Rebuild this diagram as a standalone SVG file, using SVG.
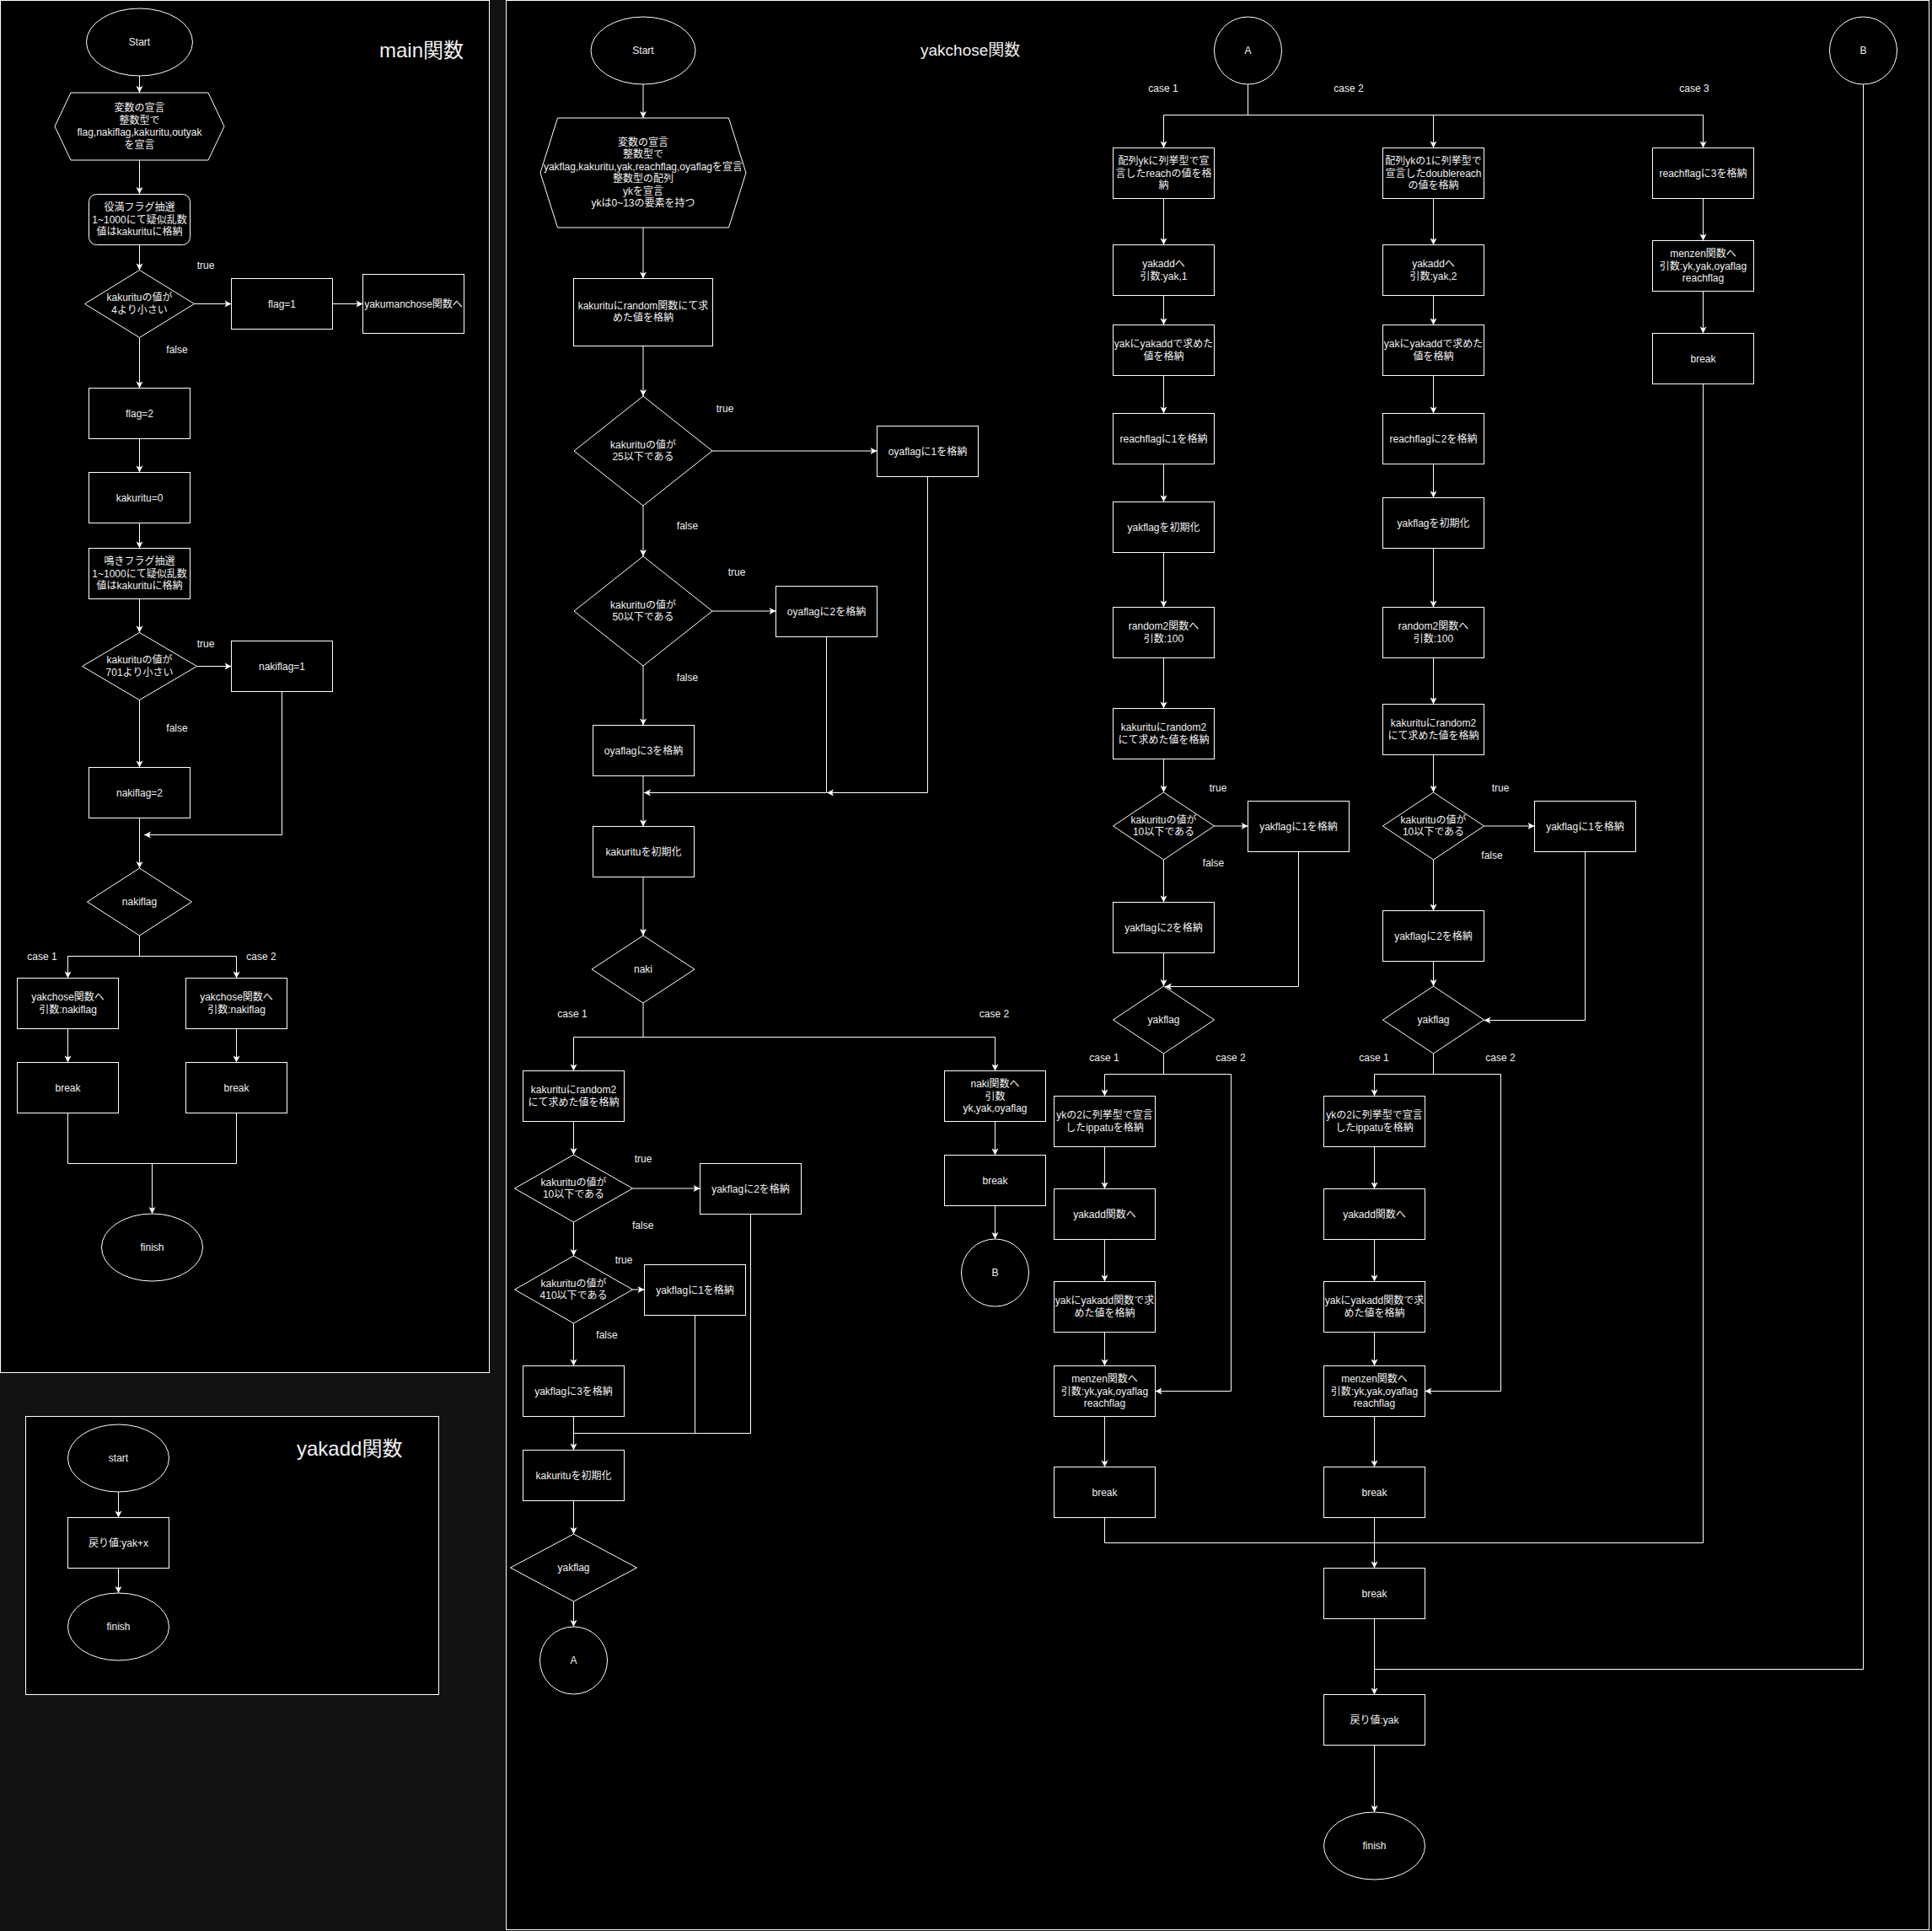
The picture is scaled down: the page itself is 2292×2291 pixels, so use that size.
<svg xmlns="http://www.w3.org/2000/svg" width="2292" height="2291" viewBox="0 0 2292 2291">
<style>
.n{fill:#000;stroke:#fff;stroke-width:1}
.t{font-family:"Liberation Sans","Noto Sans CJK JP",sans-serif;font-size:12px;fill:#f0f0f0;text-anchor:middle}
.ti{font-family:"Liberation Sans","Noto Sans CJK JP",sans-serif;fill:#f0f0f0}
.c{fill:none;stroke:#fff;stroke-width:1}
.a{marker-end:url(#arr)}
</style>
<defs>
<marker id="arr" markerUnits="userSpaceOnUse" markerWidth="12" markerHeight="12" viewBox="-10 -6 12 12" refX="0" refY="0" orient="auto">
<path d="M0,0 L-8,-4 L-6,0 L-8,4 Z" fill="#fff"/>
</marker>
</defs>
<rect width="2292" height="2291" fill="#121212"/>
<g id="panels">
<rect x="0.5" y="0.5" width="580" height="1628" class="n"/>
<rect x="600.5" y="0.5" width="1688" height="2289" class="n"/>
<rect x="30.5" y="1680.5" width="490" height="330" class="n"/>
<text class="ti" x="450" y="68" font-size="24">main関数</text>
<text class="ti" x="1092" y="66" font-size="19">yakchose関数</text>
<text class="ti" x="352" y="1727" font-size="24">yakadd関数</text>
</g>
<g id="connectors" class="c">
<path class="a" d="M165.5,90 V110"/>
<path class="a" d="M165.5,190 V230"/>
<path class="a" d="M165.5,290 V320.5"/>
<path class="a" d="M230.5,360.5 H274.5"/>
<path class="a" d="M394.5,360.5 H430.5"/>
<path class="a" d="M165.5,400.5 V460.5"/>
<path class="a" d="M165.5,520.5 V560.5"/>
<path class="a" d="M165.5,620.5 V650.5"/>
<path class="a" d="M165.5,710.5 V750.5"/>
<path class="a" d="M233.5,790.5 H274.5"/>
<path class="a" d="M165.5,830.5 V910.5"/>
<path class="a" d="M334.5,820.5 V990.5 H171"/>
<path class="a" d="M165.5,970.5 V1030"/>
<path class="a" d="M165.5,1110 V1134.5 H80.5 V1160.5"/>
<path class="a" d="M165.5,1134.5 H280.5 V1160.5"/>
<path class="a" d="M80.5,1220.5 V1260.5"/>
<path class="a" d="M280.5,1220.5 V1260.5"/>
<path d="M80.5,1320.5 V1380.5 H280.5 V1320.5"/>
<path class="a" d="M180.5,1380.5 V1440"/>
<path class="a" d="M140.5,1770 V1800.5"/>
<path class="a" d="M140.5,1860.5 V1890"/>
<path class="a" d="M763,100 V140"/>
<path class="a" d="M763,270 V330.5"/>
<path class="a" d="M763,410.5 V470"/>
<path class="a" d="M845,535 H1040.5"/>
<path class="a" d="M763,600 V660"/>
<path class="a" d="M845,725 H920.5"/>
<path class="a" d="M763,790 V860.5"/>
<path class="a" d="M1100.5,565.5 V940.5 H981"/>
<path class="a" d="M980.5,755.5 V940.5 H764"/>
<path class="a" d="M763,920.5 V980.5"/>
<path class="a" d="M763,1040.5 V1110"/>
<path class="a" d="M763,1190 V1230.5 H680.5 V1270.5"/>
<path class="a" d="M763,1230.5 H1180.5 V1270.5"/>
<path class="a" d="M1180.5,1330.5 V1370.5"/>
<path class="a" d="M1180.5,1430.5 V1470"/>
<path class="a" d="M680.5,1330.5 V1370"/>
<path class="a" d="M750.5,1410 H830.5"/>
<path class="a" d="M680.5,1450 V1490"/>
<path class="a" d="M750.5,1530 H764.5"/>
<path class="a" d="M680.5,1570 V1620.5"/>
<path class="a" d="M680.5,1680.5 V1720.5"/>
<path d="M890.5,1440.5 V1700.5 H680.5"/>
<path d="M824.5,1560.5 V1700.5"/>
<path class="a" d="M680.5,1780.5 V1820"/>
<path class="a" d="M680.5,1900 V1930"/>
<path class="a" d="M1480.5,100 V136.5 H1380.5 V175.5"/>
<path class="a" d="M1480.5,136.5 H1700.5 V175.5"/>
<path class="a" d="M1700.5,136.5 H2020.5 V175.5"/>
<path class="a" d="M1380.5,235.5 V290.5"/>
<path class="a" d="M1380.5,350.5 V385.5"/>
<path class="a" d="M1380.5,445.5 V490.5"/>
<path class="a" d="M1380.5,550.5 V595.5"/>
<path class="a" d="M1380.5,655.5 V720.5"/>
<path class="a" d="M1380.5,780.5 V840.5"/>
<path class="a" d="M1380.5,900.5 V940"/>
<path class="a" d="M1440.5,980 H1480.5"/>
<path class="a" d="M1380.5,1020 V1070.5"/>
<path class="a" d="M1380.5,1130.5 V1170"/>
<path class="a" d="M1540.5,1010.5 V1170.5 H1382"/>
<path class="a" d="M1380.5,1250 V1274.5 H1310.5 V1300.5"/>
<path class="a" d="M1380.5,1274.5 H1460.5 V1650.5 H1370.5"/>
<path class="a" d="M1310.5,1360.5 V1410.5"/>
<path class="a" d="M1310.5,1470.5 V1520.5"/>
<path class="a" d="M1310.5,1580.5 V1620.5"/>
<path class="a" d="M1310.5,1680.5 V1740.5"/>
<path d="M1310.5,1800.5 V1830.5 H2020.5 V455.5"/>
<path class="a" d="M1700.5,235.5 V290.5"/>
<path class="a" d="M1700.5,350.5 V385.5"/>
<path class="a" d="M1700.5,445.5 V490.5"/>
<path class="a" d="M1700.5,550.5 V590.5"/>
<path class="a" d="M1700.5,650.5 V720.5"/>
<path class="a" d="M1700.5,780.5 V835.5"/>
<path class="a" d="M1700.5,895.5 V940"/>
<path class="a" d="M1760.5,980 H1820.5"/>
<path class="a" d="M1700.5,1020 V1080.5"/>
<path class="a" d="M1700.5,1140.5 V1170"/>
<path class="a" d="M1880.5,1010.5 V1210.5 H1760.5"/>
<path class="a" d="M1700.5,1250 V1274.5 H1630.5 V1300.5"/>
<path class="a" d="M1700.5,1274.5 H1780.5 V1650.5 H1690.5"/>
<path class="a" d="M1630.5,1360.5 V1410.5"/>
<path class="a" d="M1630.5,1470.5 V1520.5"/>
<path class="a" d="M1630.5,1580.5 V1620.5"/>
<path class="a" d="M1630.5,1680.5 V1740.5"/>
<path class="a" d="M1630.5,1800.5 V1860.5"/>
<path class="a" d="M1630.5,1920.5 V2010.5"/>
<path d="M2210.5,100 V1980.5 H1630.5"/>
<path class="a" d="M1630.5,2070.5 V2150"/>
<path class="a" d="M2020.5,235.5 V285.5"/>
<path class="a" d="M2020.5,345.5 V395.5"/>
</g>
<g id="labels" class="t">
<text x="244" y="319">true</text>
<text x="210" y="418.6">false</text>
<text x="244" y="768">true</text>
<text x="210" y="868">false</text>
<text x="50" y="1138.7">case 1</text>
<text x="310" y="1138.7">case 2</text>
<text x="860" y="489">true</text>
<text x="815.5" y="628">false</text>
<text x="874" y="683">true</text>
<text x="815.5" y="808">false</text>
<text x="679" y="1207">case 1</text>
<text x="1179.5" y="1207">case 2</text>
<text x="763" y="1378.6">true</text>
<text x="762.7" y="1458">false</text>
<text x="740" y="1498.5">true</text>
<text x="720" y="1588.3">false</text>
<text x="1380" y="108.5">case 1</text>
<text x="1600" y="108.5">case 2</text>
<text x="2010" y="109">case 3</text>
<text x="1445" y="938.5">true</text>
<text x="1439.5" y="1028">false</text>
<text x="1310" y="1258.5">case 1</text>
<text x="1460" y="1258.5">case 2</text>
<text x="1780" y="938.5">true</text>
<text x="1770" y="1018.5">false</text>
<text x="1630" y="1258.5">case 1</text>
<text x="1780" y="1258.5">case 2</text>
</g>
<g id="m_start"><ellipse cx="165.5" cy="50" rx="63" ry="40" class="n"/><text class="t" x="165.5" y="54">Start</text></g>
<g id="m_decl"><polygon points="65,150 84,110 247,110 266,150 247,190 84,190" class="n"/><text class="t" x="165.5" y="132.4">変数の宣言<tspan x="165.5" dy="14.4">整数型で</tspan><tspan x="165.5" dy="14.4">flag,nakiflag,kakuritu,outyak</tspan><tspan x="165.5" dy="14.4">を宣言</tspan></text></g>
<g id="m_lottery1"><rect x="105.5" y="230.5" width="120" height="60" rx="9" class="n"/><text class="t" x="165.5" y="250.1">役満フラグ抽選<tspan x="165.5" dy="14.4">1~1000にて疑似乱数</tspan><tspan x="165.5" dy="14.4">値はkakurituに格納</tspan></text></g>
<g id="m_cond1"><polygon points="165.5,320.5 230.5,360.5 165.5,400.5 100.5,360.5" class="n"/><text class="t" x="165.5" y="357.3">kakurituの値が<tspan x="165.5" dy="14.4">4より小さい</tspan></text></g>
<g id="m_flag1"><rect x="274.5" y="330.5" width="120" height="60" class="n"/><text class="t" x="334.5" y="364.5">flag=1</text></g>
<g id="m_yakuman"><rect x="430.5" y="325.5" width="120" height="70" class="n"/><text class="t" x="490.5" y="364.5">yakumanchose関数へ</text></g>
<g id="m_flag2"><rect x="105.5" y="460.5" width="120" height="60" class="n"/><text class="t" x="165.5" y="494.5">flag=2</text></g>
<g id="m_kak0"><rect x="105.5" y="560.5" width="120" height="60" class="n"/><text class="t" x="165.5" y="594.5">kakuritu=0</text></g>
<g id="m_lottery2"><rect x="105.5" y="650.5" width="120" height="60" class="n"/><text class="t" x="165.5" y="670.1">鳴きフラグ抽選<tspan x="165.5" dy="14.4">1~1000にて疑似乱数</tspan><tspan x="165.5" dy="14.4">値はkakurituに格納</tspan></text></g>
<g id="m_cond2"><polygon points="165.5,750.5 233.5,790.5 165.5,830.5 97.5,790.5" class="n"/><text class="t" x="165.5" y="787.3">kakurituの値が<tspan x="165.5" dy="14.4">701より小さい</tspan></text></g>
<g id="m_naki1"><rect x="274.5" y="760.5" width="120" height="60" class="n"/><text class="t" x="334.5" y="794.5">nakiflag=1</text></g>
<g id="m_naki2"><rect x="105.5" y="910.5" width="120" height="60" class="n"/><text class="t" x="165.5" y="944.5">nakiflag=2</text></g>
<g id="m_switch"><polygon points="165.5,1030 227.5,1070 165.5,1110 103.5,1070" class="n"/><text class="t" x="165.5" y="1074">nakiflag</text></g>
<g id="m_yc1"><rect x="20.5" y="1160.5" width="120" height="60" class="n"/><text class="t" x="80.5" y="1187.3">yakchose関数へ<tspan x="80.5" dy="14.4">引数:nakiflag</tspan></text></g>
<g id="m_yc2"><rect x="220.5" y="1160.5" width="120" height="60" class="n"/><text class="t" x="280.5" y="1187.3">yakchose関数へ<tspan x="280.5" dy="14.4">引数:nakiflag</tspan></text></g>
<g id="m_br1"><rect x="20.5" y="1260.5" width="120" height="60" class="n"/><text class="t" x="80.5" y="1294.5">break</text></g>
<g id="m_br2"><rect x="220.5" y="1260.5" width="120" height="60" class="n"/><text class="t" x="280.5" y="1294.5">break</text></g>
<g id="m_finish"><ellipse cx="180.5" cy="1480" rx="60" ry="40" class="n"/><text class="t" x="180.5" y="1484">finish</text></g>
<g id="a_start"><ellipse cx="140.5" cy="1730" rx="60" ry="40" class="n"/><text class="t" x="140.5" y="1734">start</text></g>
<g id="a_ret"><rect x="80.5" y="1800.5" width="120" height="60" class="n"/><text class="t" x="140.5" y="1834.5">戻り値:yak+x</text></g>
<g id="a_finish"><ellipse cx="140.5" cy="1930" rx="60" ry="40" class="n"/><text class="t" x="140.5" y="1934">finish</text></g>
<g id="y_start"><ellipse cx="763" cy="60" rx="62" ry="40" class="n"/><text class="t" x="763" y="64">Start</text></g>
<g id="y_decl"><polygon points="641,205 661.5,140 864.5,140 885,205 864.5,270 661.5,270" class="n"/><text class="t" x="763" y="173">変数の宣言<tspan x="763" dy="14.4">整数型で</tspan><tspan x="763" dy="14.4">yakflag,kakuritu,yak,reachflag,oyaflagを宣言</tspan><tspan x="763" dy="14.4">整数型の配列</tspan><tspan x="763" dy="14.4">ykを宣言</tspan><tspan x="763" dy="14.4">ykは0~13の要素を持つ</tspan></text></g>
<g id="y_rand"><rect x="680.5" y="330.5" width="165" height="80" class="n"/><text class="t" x="763" y="366.8">kakurituにrandom関数にて求<tspan x="763" dy="14.4">めた値を格納</tspan></text></g>
<g id="y_cond25"><polygon points="763,470 845,535 763,600 681,535" class="n"/><text class="t" x="763" y="531.8">kakurituの値が<tspan x="763" dy="14.4">25以下である</tspan></text></g>
<g id="y_oya1"><rect x="1040.5" y="505.5" width="120" height="60" class="n"/><text class="t" x="1100.5" y="539.5">oyaflagに1を格納</text></g>
<g id="y_cond50"><polygon points="763,660 845,725 763,790 681,725" class="n"/><text class="t" x="763" y="721.8">kakurituの値が<tspan x="763" dy="14.4">50以下である</tspan></text></g>
<g id="y_oya2"><rect x="920.5" y="695.5" width="120" height="60" class="n"/><text class="t" x="980.5" y="729.5">oyaflagに2を格納</text></g>
<g id="y_oya3"><rect x="703.5" y="860.5" width="120" height="60" class="n"/><text class="t" x="763.5" y="894.5">oyaflagに3を格納</text></g>
<g id="y_init1"><rect x="703.5" y="980.5" width="120" height="60" class="n"/><text class="t" x="763.5" y="1014.5">kakurituを初期化</text></g>
<g id="y_naki"><polygon points="763,1110 824,1150 763,1190 702,1150" class="n"/><text class="t" x="763" y="1154">naki</text></g>
<g id="y_rand2"><rect x="620.5" y="1270.5" width="120" height="60" class="n"/><text class="t" x="680.5" y="1297.3">kakurituにrandom2<tspan x="680.5" dy="14.4">にて求めた値を格納</tspan></text></g>
<g id="y_nakif"><rect x="1120.5" y="1270.5" width="120" height="60" class="n"/><text class="t" x="1180.5" y="1290.1">naki関数へ<tspan x="1180.5" dy="14.4">引数</tspan><tspan x="1180.5" dy="14.4">yk,yak,oyaflag</tspan></text></g>
<g id="y_break1"><rect x="1120.5" y="1370.5" width="120" height="60" class="n"/><text class="t" x="1180.5" y="1404.5">break</text></g>
<g id="y_B"><circle cx="1180.5" cy="1510" r="40" class="n"/><text class="t" x="1180.5" y="1514">B</text></g>
<g id="y_cond10"><polygon points="680.5,1370 750.5,1410 680.5,1450 610.5,1410" class="n"/><text class="t" x="680.5" y="1406.8">kakurituの値が<tspan x="680.5" dy="14.4">10以下である</tspan></text></g>
<g id="y_yf2"><rect x="830.5" y="1380.5" width="120" height="60" class="n"/><text class="t" x="890.5" y="1414.5">yakflagに2を格納</text></g>
<g id="y_cond410"><polygon points="680.5,1490 750.5,1530 680.5,1570 610.5,1530" class="n"/><text class="t" x="680.5" y="1526.8">kakurituの値が<tspan x="680.5" dy="14.4">410以下である</tspan></text></g>
<g id="y_yf1"><rect x="764.5" y="1500.5" width="120" height="60" class="n"/><text class="t" x="824.5" y="1534.5">yakflagに1を格納</text></g>
<g id="y_yf3"><rect x="620.5" y="1620.5" width="120" height="60" class="n"/><text class="t" x="680.5" y="1654.5">yakflagに3を格納</text></g>
<g id="y_init2"><rect x="620.5" y="1720.5" width="120" height="60" class="n"/><text class="t" x="680.5" y="1754.5">kakurituを初期化</text></g>
<g id="y_yakflag"><polygon points="680.5,1820 755.5,1860 680.5,1900 605.5,1860" class="n"/><text class="t" x="680.5" y="1864">yakflag</text></g>
<g id="y_A"><circle cx="680.5" cy="1970" r="40" class="n"/><text class="t" x="680.5" y="1974">A</text></g>
<g id="r_A"><circle cx="1480.5" cy="60" r="40" class="n"/><text class="t" x="1480.5" y="64">A</text></g>
<g id="r_B"><circle cx="2210.5" cy="60" r="40" class="n"/><text class="t" x="2210.5" y="64">B</text></g>
<g id="c1_reach"><rect x="1320.5" y="175.5" width="120" height="60" class="n"/><text class="t" x="1380.5" y="195.1">配列ykに列挙型で宣<tspan x="1380.5" dy="14.4">言したreachの値を格</tspan><tspan x="1380.5" dy="14.4">納</tspan></text></g>
<g id="c1_add"><rect x="1320.5" y="290.5" width="120" height="60" class="n"/><text class="t" x="1380.5" y="317.3">yakaddへ<tspan x="1380.5" dy="14.4">引数:yak,1</tspan></text></g>
<g id="c1_store"><rect x="1320.5" y="385.5" width="120" height="60" class="n"/><text class="t" x="1380.5" y="412.3">yakにyakaddで求めた<tspan x="1380.5" dy="14.4">値を格納</tspan></text></g>
<g id="c1_rf"><rect x="1320.5" y="490.5" width="120" height="60" class="n"/><text class="t" x="1380.5" y="524.5">reachflagに1を格納</text></g>
<g id="c1_init"><rect x="1320.5" y="595.5" width="120" height="60" class="n"/><text class="t" x="1380.5" y="629.5">yakflagを初期化</text></g>
<g id="c1_rand"><rect x="1320.5" y="720.5" width="120" height="60" class="n"/><text class="t" x="1380.5" y="747.3">random2関数へ<tspan x="1380.5" dy="14.4">引数:100</tspan></text></g>
<g id="c1_kak"><rect x="1320.5" y="840.5" width="120" height="60" class="n"/><text class="t" x="1380.5" y="867.3">kakurituにrandom2<tspan x="1380.5" dy="14.4">にて求めた値を格納</tspan></text></g>
<g id="c1_cond"><polygon points="1380.5,940 1440.5,980 1380.5,1020 1320.5,980" class="n"/><text class="t" x="1380.5" y="976.8">kakurituの値が<tspan x="1380.5" dy="14.4">10以下である</tspan></text></g>
<g id="c1_yf1"><rect x="1480.5" y="950.5" width="120" height="60" class="n"/><text class="t" x="1540.5" y="984.5">yakflagに1を格納</text></g>
<g id="c1_yf2"><rect x="1320.5" y="1070.5" width="120" height="60" class="n"/><text class="t" x="1380.5" y="1104.5">yakflagに2を格納</text></g>
<g id="c1_sw"><polygon points="1380.5,1170 1440.5,1210 1380.5,1250 1320.5,1210" class="n"/><text class="t" x="1380.5" y="1214">yakflag</text></g>
<g id="c1_ipp"><rect x="1250.5" y="1300.5" width="120" height="60" class="n"/><text class="t" x="1310.5" y="1327.3">ykの2に列挙型で宣言<tspan x="1310.5" dy="14.4">したippatuを格納</tspan></text></g>
<g id="c1_addf"><rect x="1250.5" y="1410.5" width="120" height="60" class="n"/><text class="t" x="1310.5" y="1444.5">yakadd関数へ</text></g>
<g id="c1_st2"><rect x="1250.5" y="1520.5" width="120" height="60" class="n"/><text class="t" x="1310.5" y="1547.3">yakにyakadd関数で求<tspan x="1310.5" dy="14.4">めた値を格納</tspan></text></g>
<g id="c1_menzen"><rect x="1250.5" y="1620.5" width="120" height="60" class="n"/><text class="t" x="1310.5" y="1640.1">menzen関数へ<tspan x="1310.5" dy="14.4">引数:yk,yak,oyaflag</tspan><tspan x="1310.5" dy="14.4">reachflag</tspan></text></g>
<g id="c1_break"><rect x="1250.5" y="1740.5" width="120" height="60" class="n"/><text class="t" x="1310.5" y="1774.5">break</text></g>
<g id="c2_reach"><rect x="1640.5" y="175.5" width="120" height="60" class="n"/><text class="t" x="1700.5" y="195.1">配列ykの1に列挙型で<tspan x="1700.5" dy="14.4">宣言したdoublereach</tspan><tspan x="1700.5" dy="14.4">の値を格納</tspan></text></g>
<g id="c2_add"><rect x="1640.5" y="290.5" width="120" height="60" class="n"/><text class="t" x="1700.5" y="317.3">yakaddへ<tspan x="1700.5" dy="14.4">引数:yak,2</tspan></text></g>
<g id="c2_store"><rect x="1640.5" y="385.5" width="120" height="60" class="n"/><text class="t" x="1700.5" y="412.3">yakにyakaddで求めた<tspan x="1700.5" dy="14.4">値を格納</tspan></text></g>
<g id="c2_rf"><rect x="1640.5" y="490.5" width="120" height="60" class="n"/><text class="t" x="1700.5" y="524.5">reachflagに2を格納</text></g>
<g id="c2_init"><rect x="1640.5" y="590.5" width="120" height="60" class="n"/><text class="t" x="1700.5" y="624.5">yakflagを初期化</text></g>
<g id="c2_rand"><rect x="1640.5" y="720.5" width="120" height="60" class="n"/><text class="t" x="1700.5" y="747.3">random2関数へ<tspan x="1700.5" dy="14.4">引数:100</tspan></text></g>
<g id="c2_kak"><rect x="1640.5" y="835.5" width="120" height="60" class="n"/><text class="t" x="1700.5" y="862.3">kakurituにrandom2<tspan x="1700.5" dy="14.4">にて求めた値を格納</tspan></text></g>
<g id="c2_cond"><polygon points="1700.5,940 1760.5,980 1700.5,1020 1640.5,980" class="n"/><text class="t" x="1700.5" y="976.8">kakurituの値が<tspan x="1700.5" dy="14.4">10以下である</tspan></text></g>
<g id="c2_yf1"><rect x="1820.5" y="950.5" width="120" height="60" class="n"/><text class="t" x="1880.5" y="984.5">yakflagに1を格納</text></g>
<g id="c2_yf2"><rect x="1640.5" y="1080.5" width="120" height="60" class="n"/><text class="t" x="1700.5" y="1114.5">yakflagに2を格納</text></g>
<g id="c2_sw"><polygon points="1700.5,1170 1760.5,1210 1700.5,1250 1640.5,1210" class="n"/><text class="t" x="1700.5" y="1214">yakflag</text></g>
<g id="c2_ipp"><rect x="1570.5" y="1300.5" width="120" height="60" class="n"/><text class="t" x="1630.5" y="1327.3">ykの2に列挙型で宣言<tspan x="1630.5" dy="14.4">したippatuを格納</tspan></text></g>
<g id="c2_addf"><rect x="1570.5" y="1410.5" width="120" height="60" class="n"/><text class="t" x="1630.5" y="1444.5">yakadd関数へ</text></g>
<g id="c2_st2"><rect x="1570.5" y="1520.5" width="120" height="60" class="n"/><text class="t" x="1630.5" y="1547.3">yakにyakadd関数で求<tspan x="1630.5" dy="14.4">めた値を格納</tspan></text></g>
<g id="c2_menzen"><rect x="1570.5" y="1620.5" width="120" height="60" class="n"/><text class="t" x="1630.5" y="1640.1">menzen関数へ<tspan x="1630.5" dy="14.4">引数:yk,yak,oyaflag</tspan><tspan x="1630.5" dy="14.4">reachflag</tspan></text></g>
<g id="c2_break"><rect x="1570.5" y="1740.5" width="120" height="60" class="n"/><text class="t" x="1630.5" y="1774.5">break</text></g>
<g id="c3_rf"><rect x="1960.5" y="175.5" width="120" height="60" class="n"/><text class="t" x="2020.5" y="209.5">reachflagに3を格納</text></g>
<g id="c3_menzen"><rect x="1960.5" y="285.5" width="120" height="60" class="n"/><text class="t" x="2020.5" y="305.1">menzen関数へ<tspan x="2020.5" dy="14.4">引数:yk,yak,oyaflag</tspan><tspan x="2020.5" dy="14.4">reachflag</tspan></text></g>
<g id="c3_break"><rect x="1960.5" y="395.5" width="120" height="60" class="n"/><text class="t" x="2020.5" y="429.5">break</text></g>
<g id="r_break"><rect x="1570.5" y="1860.5" width="120" height="60" class="n"/><text class="t" x="1630.5" y="1894.5">break</text></g>
<g id="r_ret"><rect x="1570.5" y="2010.5" width="120" height="60" class="n"/><text class="t" x="1630.5" y="2044.5">戻り値:yak</text></g>
<g id="r_finish"><ellipse cx="1630.5" cy="2190" rx="60" ry="40" class="n"/><text class="t" x="1630.5" y="2194">finish</text></g>
</svg>
